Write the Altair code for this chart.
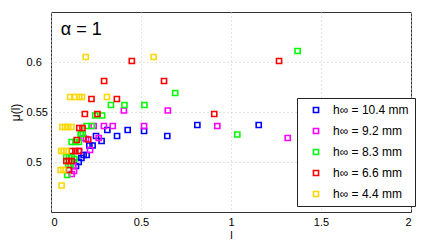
import altair as alt
import pandas as pd

series_labels = ["h∞ = 10.4 mm", "h∞ = 9.2 mm", "h∞ = 8.3 mm", "h∞ = 6.6 mm", "h∞ = 4.4 mm"]
series_colors = ["#0000FF", "#FF00FF", "#00FF00", "#FF0000", "#FFD700"]

blue_x = [0.139, 0.154, 0.169, 0.181, 0.198, 0.213, 0.231, 0.250, 0.281, 0.313, 0.367, 0.426, 0.517, 0.646, 0.813, 1.154]
blue_y = [0.496, 0.500, 0.504, 0.507, 0.507, 0.5165, 0.5165, 0.526, 0.521, 0.532, 0.526, 0.532, 0.531, 0.526, 0.537, 0.537]

magenta_x = [0.115, 0.128, 0.124, 0.156, 0.217, 0.181, 0.194, 0.265, 0.237, 0.294, 0.343, 0.517, 0.924, 0.405, 0.649, 1.315]
magenta_y = [0.488, 0.491, 0.496, 0.511, 0.512, 0.524, 0.523, 0.524, 0.536, 0.536, 0.536, 0.536, 0.536, 0.5515, 0.5515, 0.524]

green_x = [0.090, 0.096, 0.109, 0.085, 0.100, 0.115, 0.130, 0.115, 0.135, 0.155, 0.165, 0.176, 0.198, 0.226, 0.246, 0.284, 0.333, 0.408, 0.519, 0.690, 1.035, 1.370]
green_y = [0.487, 0.497, 0.497, 0.505, 0.505, 0.505, 0.503, 0.520, 0.520, 0.520, 0.528, 0.528, 0.536, 0.536, 0.5465, 0.5465, 0.557, 0.557, 0.557, 0.569, 0.5275, 0.611]

red_x = [0.100, 0.085, 0.100, 0.115, 0.115, 0.135, 0.155, 0.143, 0.207, 0.157, 0.175, 0.188, 0.258, 0.907, 0.225, 0.366, 0.295, 0.628, 0.449, 1.267]
red_y = [0.492, 0.501, 0.501, 0.501, 0.511, 0.511, 0.511, 0.522, 0.5225, 0.534, 0.534, 0.548, 0.548, 0.548, 0.563, 0.563, 0.581, 0.581, 0.601, 0.601]

yellow_x = [0.059, 0.054, 0.068, 0.057, 0.070, 0.085, 0.063, 0.078, 0.095, 0.113, 0.106, 0.130, 0.157, 0.172, 0.311, 0.193, 0.570]
yellow_y = [0.4765, 0.492, 0.492, 0.511, 0.511, 0.511, 0.535, 0.535, 0.535, 0.535, 0.565, 0.565, 0.565, 0.565, 0.565, 0.605, 0.605]

xs = [blue_x, magenta_x, green_x, red_x, yellow_x]
ys = [blue_y, magenta_y, green_y, red_y, yellow_y]

rows = []
for i, (lab, sx, sy) in enumerate(zip(series_labels, xs, ys)):
    for a, b in zip(sx, sy):
        rows.append({"l": a, "mu": b, "series": lab, "order": i})
df = pd.DataFrame(rows)

font = "Liberation Sans"

points = alt.Chart(df).mark_point(shape="square", filled=False, size=26, strokeWidth=1.6, opacity=1).encode(
    x=alt.X("l:Q", scale=alt.Scale(domain=[0, 2], nice=False),
            axis=alt.Axis(values=[0, 0.5, 1, 1.5, 2], title="l", format="~g",
                          labelPadding=4, titlePadding=2, titleFontSize=11)),
    y=alt.Y("mu:Q", scale=alt.Scale(domain=[0.45, 0.65], nice=False, zero=False),
            axis=alt.Axis(values=[0.5, 0.55, 0.6], title="μ(l)", format="~g",
                          labelAlign="left", labelPadding=25, titlePadding=4,
                          titleFontSize=12)),
    color=alt.Color("series:N", sort=series_labels,
                    scale=alt.Scale(domain=series_labels, range=series_colors),
                    legend=alt.Legend(title=None, orient="none", legendX=246, legendY=86,
                                      strokeColor="#222", fillColor="white", padding=6,
                                      symbolType="square", symbolSize=26, symbolStrokeWidth=1.6,
                                      symbolOffset=7, labelOffset=11, rowPadding=9,
                                      labelFontSize=12, labelFont=font, labelColor="black",
                                      labelLimit=200)),
    order=alt.Order("order:Q"),
)

label_df = pd.DataFrame({"l": [0.054], "mu": [0.6317], "t": ["α = 1"]})
label = alt.Chart(label_df).mark_text(align="left", baseline="middle", fontSize=18, font=font, color="black").encode(
    x="l:Q", y="mu:Q", text="t:N"
)

chart = (points + label).properties(
    width=360, height=200,
    autosize=alt.AutoSizeParams(type="none"),
    padding={"left": 43, "top": 4, "right": 17, "bottom": 34},
).configure_view(
    stroke="#333", strokeWidth=1
).configure_axis(
    grid=True, gridColor="#c8c8c8", gridDash=[1, 3], gridWidth=1,
    domain=False, ticks=False,
    labelFont=font, labelFontSize=11, labelColor="black",
    titleFont=font, titleFontSize=12, titleFontWeight="normal", titleColor="black",
)

chart.save("out.html", embed_options={"renderer": "svg", "actions": False})
